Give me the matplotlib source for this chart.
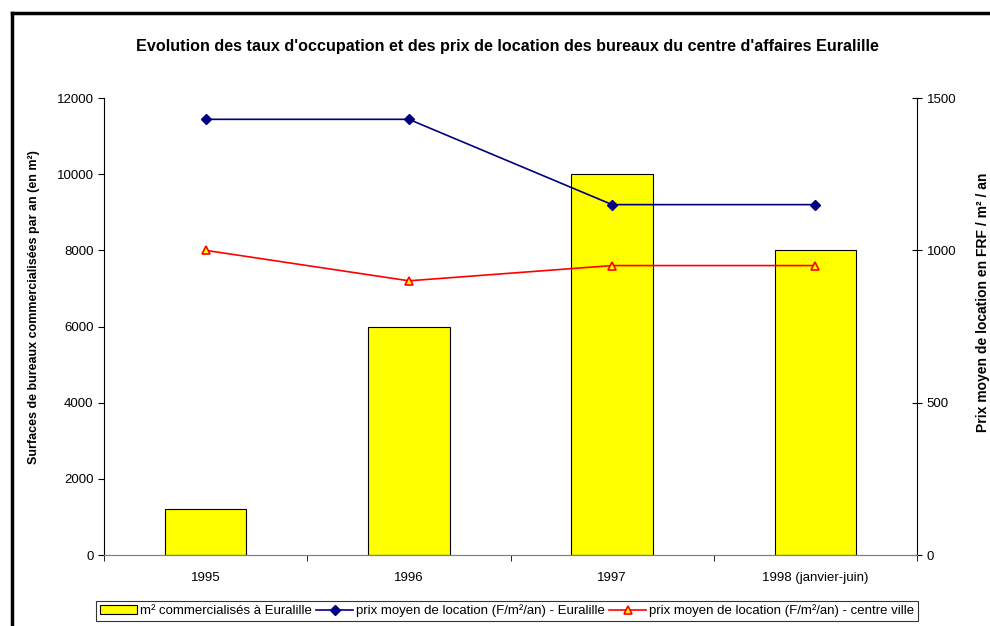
import matplotlib
matplotlib.use("Agg")
import matplotlib.pyplot as plt
import numpy as np

plt.rcParams['font.family'] = ['Liberation Sans', 'DejaVu Sans']

categories = ['1995', '1996', '1997', '1998 (janvier-juin)']
surfaces = [1200, 6000, 10000, 8000]
prix_euralille = [1430, 1430, 1150, 1150]
prix_centre = [1000, 900, 950, 950]

fig = plt.figure(figsize=(9.9, 6.26), dpi=100)
ax = fig.add_axes([104 / 990, 1 - 555 / 626, (917 - 104) / 990, (555 - 98) / 626])
ax2 = ax.twinx()

x = np.arange(len(categories))
bars = ax.bar(x, surfaces, width=0.4, color='#ffff00', edgecolor='black', linewidth=0.8,
              label='m² commercialisés à Euralille', zorder=2)
l1, = ax2.plot(x, prix_euralille, color='#000080', marker='D', markersize=5, linewidth=1.2,
               label='prix moyen de location (F/m²/an) - Euralille')
l2, = ax2.plot(x, prix_centre, color='red', marker='^', markersize=6, markerfacecolor='yellow',
               markeredgecolor='red', markeredgewidth=1.2, linewidth=1.2,
               label='prix moyen de location (F/m²/an) - centre ville')

ax.set_xlim(-0.5, 3.5)
ax.set_ylim(0, 12000)
ax2.set_ylim(0, 1500)
ax.set_yticks(range(0, 12001, 2000))
ax2.set_yticks([0, 500, 1000, 1500])

ax.set_xticks(x)
ax.set_xticklabels(categories, fontsize=9.5)
ax.tick_params(axis='x', length=0, pad=12)
ax.set_xticks(np.arange(-0.5, 4, 1), minor=True)
ax.tick_params(axis='x', which='minor', length=4, direction='out', color='black')
ax.tick_params(axis='y', labelsize=9.5, length=4, direction='out')
ax2.tick_params(axis='y', labelsize=9.5, length=7, direction='inout')

for a in (ax, ax2):
    a.spines['top'].set_visible(False)
ax.spines['bottom'].set_color('#808080')
ax2.spines['bottom'].set_color('#808080')
ax.spines['right'].set_visible(False)
ax2.spines['left'].set_visible(False)

ax.set_ylabel('Surfaces de bureaux commercialisées par an (en m²)', fontsize=9,
              fontweight='bold')
ax.yaxis.set_label_coords(-0.0787, 0.543)
ax2.set_ylabel('Prix moyen de location en FRF / m² / an', fontsize=10,
               fontweight='bold')
ax2.yaxis.set_label_coords(1.0726, 0.554)

fig.suptitle("Evolution des taux d'occupation et des prix de location des bureaux du centre d'affaires Euralille",
             fontsize=11.6, fontweight='bold', x=507 / 990, y=1 - 47 / 626, va='center')

leg = fig.legend([bars, l1, l2], [bars.get_label(), l1.get_label(), l2.get_label()],
                 loc='center', bbox_to_anchor=(507 / 990, 1 - 611 / 626), ncol=3, fontsize=9.5,
                 frameon=True, fancybox=False, edgecolor='black', handlelength=2.8,
                 handletextpad=0.2, columnspacing=0.35, borderpad=0.3, borderaxespad=0)
leg.get_frame().set_linewidth(0.8)

# outer frame (top and left edges, running off the picture)
fig.add_artist(plt.Line2D([12 / 990, 1.0], [1 - 13 / 626, 1 - 13 / 626],
                          transform=fig.transFigure, color='black', linewidth=2.5))
fig.add_artist(plt.Line2D([12 / 990, 12 / 990], [0, 1 - 13 / 626],
                          transform=fig.transFigure, color='black', linewidth=2.5))

fig.savefig('out.png', dpi=100)
